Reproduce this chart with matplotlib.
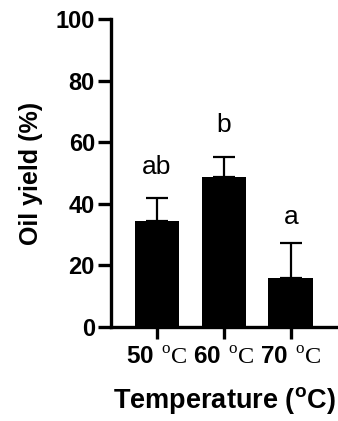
import matplotlib
matplotlib.use("Agg")
import matplotlib.pyplot as plt
import numpy as np

# data
temps = ["50", "60", "70"]
oil_yield = [34.4, 48.8, 16.0]
yield_sd = [7.6, 6.5, 11.3]
letters = ["ab", "b", "a"]
letter_y = [52, 65.5, 35.7]

plt.rcParams.update(
    {
        "font.family": "Liberation Sans",
        "mathtext.fontset": "custom",
        "mathtext.rm": "Liberation Serif",
        "mathtext.bf": "Liberation Sans:bold",
        "axes.linewidth": 2.4,
        "xtick.major.width": 2.4,
        "ytick.major.width": 2.4,
        "xtick.major.size": 8.5,
        "ytick.major.size": 9.5,
    }
)

fig = plt.figure(figsize=(3.38, 4.21), dpi=100)
ax = fig.add_axes([0.328, 0.223, 0.669, 0.732])

x = np.arange(len(temps))
ax.bar(x, oil_yield, width=0.67, color="black", zorder=2)
ax.errorbar(
    x,
    oil_yield,
    yerr=[np.zeros(len(x)), yield_sd],
    fmt="none",
    ecolor="black",
    elinewidth=1.6,
    capsize=8,
    capthick=1.6,
    zorder=1,
)
for xi, lab, ly in zip(x, letters, letter_y):
    ax.text(xi, ly, lab, ha="center", va="center", fontsize=19)

ax.set_xlim(-0.69, 2.69)
ax.set_ylim(0, 100)
ax.set_yticks([0, 20, 40, 60, 80, 100])
ax.set_xticks(x)
ax.set_xticklabels(
    [r"$\mathbf{%s}\ {}^{\mathrm{o}}\mathrm{C}$" % t for t in temps], fontsize=17.5
)
for lab in ax.get_yticklabels():
    lab.set_fontweight("bold")
    lab.set_fontsize(17)
ax.tick_params(axis="x", pad=6)
ax.tick_params(axis="y", pad=2)

ax.spines["top"].set_visible(False)
ax.spines["right"].set_visible(False)

ax.set_xlabel(r"Temperature (${}^{\mathbf{o}}$C)", fontsize=19.5, fontweight="bold", labelpad=11)
ax.set_ylabel("Oil yield (%)", fontsize=18, fontweight="bold", labelpad=9)

fig.savefig("out.png", dpi=100)
